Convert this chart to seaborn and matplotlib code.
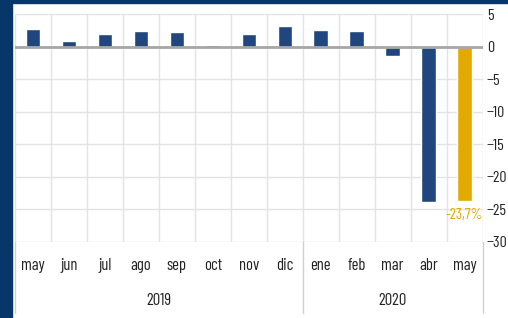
import pandas as pd
import seaborn as sns
import matplotlib.pyplot as plt
from matplotlib import font_manager
from matplotlib.patches import Rectangle
from matplotlib.transforms import blended_transform_factory

months = ["may", "jun", "jul", "ago", "sep", "oct", "nov", "dic",
          "ene", "feb", "mar", "abr", "may"]
years = ["2019"] * 8 + ["2020"] * 5
values = [2.7, 0.9, 2.0, 2.4, 2.3, 0.3, 2.0, 3.1, 2.6, 2.4, -1.4, -23.8, -23.7]
last_label = "-23,7%"

blue = "#1f477d"
gold = "#e2a900"
frame = "#063768"

names = {f.name for f in font_manager.fontManager.ttflist}
font = "DejaVu Sans"
for cand in ["Liberation Sans Narrow", "Arial Narrow", "Barlow Condensed",
             "Archivo Narrow", "Roboto Condensed", "Asap Condensed"]:
    if cand in names:
        font = cand
        break

sns.set_theme(style="white")
plt.rcParams["font.family"] = [font, "DejaVu Sans"]

df = pd.DataFrame({"key": [f"{m} {y}" for m, y in zip(months, years)],
                   "value": values})
colors = [blue] * (len(values) - 1) + [gold]

fig = plt.figure(figsize=(5.08, 3.18), dpi=100)
fig.patch.set_facecolor("white")
ax = fig.add_axes([15 / 508, 76 / 318, 467.5 / 508, 228 / 318])

sns.barplot(data=df, x="key", y="value", hue="key", palette=colors,
            width=0.4, legend=False, saturation=1, ax=ax)

ax.set_ylim(-30, 5)
ax.set_xlim(-0.5, len(values) - 0.5)
ax.set_yticks(range(-30, 6, 5))
ax.yaxis.tick_right()
ax.tick_params(axis="y", length=0, pad=3, labelsize=11.5, labelcolor="#222222")
ax.set_xticks([i - 0.5 for i in range(len(values) + 1)])
ax.set_xticklabels([])
ax.tick_params(axis="x", length=0)
ax.set_xlabel("")
ax.set_ylabel("")
for s in ax.spines.values():
    s.set_visible(False)
ax.grid(True, color="#e3e3e3", linewidth=1)
ax.set_axisbelow(True)
ax.axhline(0, color="#a6a6a6", linewidth=2, zorder=1.5)

ax.text(len(values) - 1, -25.8, last_label, color=gold, ha="center",
        va="center", fontsize=11)

# category labels below the plot
tr = blended_transform_factory(ax.transData, ax.transAxes)
for i, m in enumerate(months):
    ax.text(i, -0.105, m, transform=tr, ha="center", va="center",
            fontsize=12, color="#222222")
for y in ["2019", "2020"]:
    idx = [i for i, v in enumerate(years) if v == y]
    ax.text((idx[0] + idx[-1]) / 2, -0.255, y, transform=tr, ha="center",
            va="center", fontsize=12, color="#222222")
for x in [-0.5, 7.5, len(values) - 0.5]:
    ax.plot([x, x], [0, -0.31], transform=tr, color="#d0d0d0",
            linewidth=1, clip_on=False)

# dark frame on the left and top
fig.patches.append(Rectangle((0, 0), 12 / 508, 1, transform=fig.transFigure,
                             color=frame, zorder=-1))
fig.patches.append(Rectangle((0, 1 - 2.5 / 318), 1, 2.5 / 318,
                             transform=fig.transFigure, color=frame, zorder=-1))

fig.savefig("out.png", dpi=100)
